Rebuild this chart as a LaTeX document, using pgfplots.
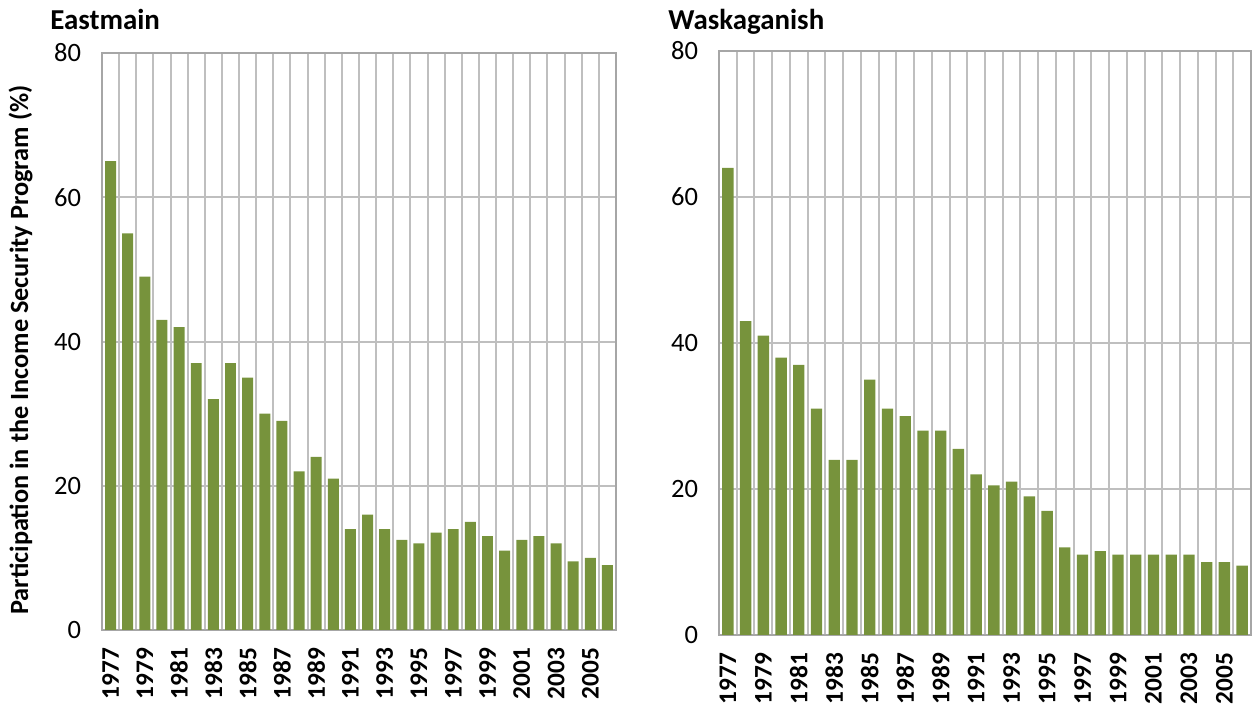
\documentclass[border=0pt]{standalone}
\usepackage{pgfplots}
\pgfplotsset{compat=1.18}
\usepackage{pgfplotstable}
\usepackage{fontspec}
\setmainfont{Carlito}
\definecolor{barc}{HTML}{77933C}
\definecolor{gridc}{HTML}{BFBFBF}
\definecolor{axc}{HTML}{A6A6A6}

\pgfplotstableread{
x e w
0 65 64
1 55 43
2 49 41
3 43 38
4 42 37
5 37 31
6 32 24
7 37 24
8 35 35
9 30 31
10 29 30
11 22 28
12 24 28
13 21 25.5
14 14 22
15 16 20.5
16 14 21
17 12.5 19
18 12 17
19 13.5 12
20 14 11
21 15 11.5
22 13 11
23 11 11
24 12.5 11
25 13 11
26 12 11
27 9.5 10
28 10 10
29 9 9.5
}\data

\pgfplotsset{mystyle/.style={
  scale only axis,
  ymin=0, ymax=80, ytick={0,20,...,80},
  xmin=-0.5, xmax=29.5,
  xtick={0,2,...,28},
  xticklabels={1977,1979,1981,1983,1985,1987,1989,1991,1993,1995,1997,1999,2001,2003,2005},
  minor xtick={-0.5,0.5,...,29.5},
  ymajorgrids, xminorgrids,
  major grid style={draw=gridc, line width=1bp},
  minor grid style={draw=gridc, line width=1bp},
  axis line style={draw=axc, line width=1bp},
  major tick length=0pt, minor tick length=0pt,
  /pgf/number format/assume math mode=true,
  yticklabel style={font=\fontsize{13.3}{15}\selectfont, anchor=east, xshift=-7bp},
  xticklabel style={font=\bfseries\fontsize{12.7}{14}\selectfont, rotate=90, anchor=east},
  xticklabel shift=5.5bp,
  ybar, bar width=0.64,
}}

\begin{document}
\begin{tikzpicture}
\useasboundingbox (0,0) rectangle (626bp,353.5bp);
\begin{axis}[mystyle, at={(51bp,38.5bp)}, anchor=south west, width=257bp, height=288.5bp]
\addplot[fill=barc, draw=none] table[x=x, y=e] {\data};
\end{axis}
\begin{axis}[mystyle, at={(359.5bp,36bp)}, anchor=south west, width=266bp, height=292bp]
\addplot[fill=barc, draw=none] table[x=x, y=w] {\data};
\end{axis}
\node[anchor=base west, inner sep=0pt, font=\bfseries\fontsize{14.5}{16}\selectfont] at (25bp,338.5bp) {Eastmain};
\node[anchor=base west, inner sep=0pt, font=\bfseries\fontsize{14.5}{16}\selectfont] at (334bp,338.5bp) {Waskaganish};
\node[rotate=90, anchor=base, inner sep=0pt, font=\bfseries\fontsize{13.2}{15}\selectfont] at (14bp,178.5bp) {Participation in the Income Security Program (\%)};
\end{tikzpicture}
\end{document}
